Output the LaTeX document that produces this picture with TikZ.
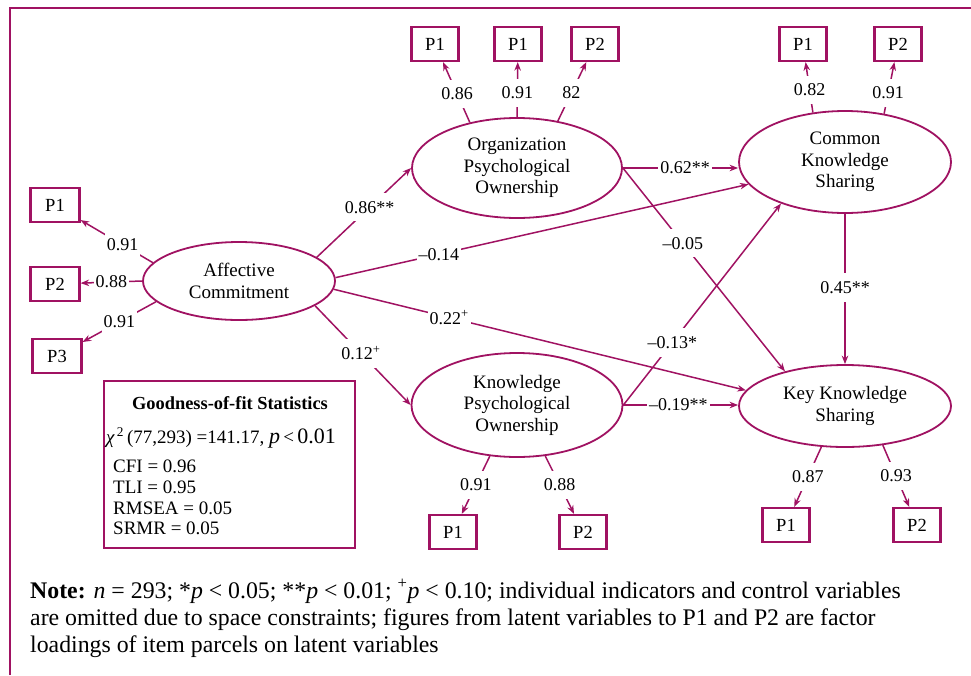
\documentclass[tikz,border=0pt]{standalone}
\usepackage{fontspec}
\setmainfont{Liberation Serif}
\usetikzlibrary{arrows.meta,shapes.geometric}
\definecolor{mag}{RGB}{160,18,98}
\begin{document}
\begin{tikzpicture}[x=1pt,y=-1pt,
  lat/.style={ellipse, draw=mag, line width=1.8pt, inner sep=0pt, align=center,
    font=\fontsize{19}{21.5}\selectfont},
  obs/.style={rectangle, draw=mag, line width=2.2pt, minimum width=47pt,
    minimum height=34pt, inner sep=0pt, font=\fontsize{18.5}{20}\selectfont},
  conn/.style={draw=mag, line width=1.5pt, -{Stealth[length=8.5pt,width=6.5pt]}},
  lbl/.style={fill=white, inner xsep=2pt, inner ysep=8pt, text=black,
    font=\fontsize{18}{20}\selectfont},
  stxt/.style={anchor=west, inner sep=0pt, font=\fontsize{19}{20}\selectfont},
  ntxt/.style={anchor=base west, inner sep=0pt, font=\fontsize{23.8}{27}\selectfont},
]
\useasboundingbox (0,0) rectangle (971,675);
\fill[white] (0,0) rectangle (971,675);
% frame
\coordinate (fa) at (10,675);
\coordinate (fb) at (10,8);
\coordinate (fc) at (971,8);
\draw[mag, line width=2.5pt] (fa) -- (fb) -- (fc);

% latent variables
\node[lat, minimum width=192pt, minimum height=78pt] (ac) at (239,281) {Affective\\Commitment};
\node[lat, minimum width=210pt, minimum height=100pt] (opo) at (517,168) {Organization\\Psychological\\Ownership};
\node[lat, minimum width=211pt, minimum height=104pt] (kpo) at (517,405) {Knowledge\\Psychological\\Ownership};
\node[lat, minimum width=212pt, minimum height=102pt] (cks) at (845,162) {Common\\Knowledge\\Sharing};
\node[lat, minimum width=212pt, minimum height=82pt] (kks) at (845,406) {Key Knowledge\\Sharing};

% indicators
\node[obs] (o1) at (435,44) {P1};
\node[obs] (o2) at (518,44) {P1};
\node[obs] (o3) at (595,44) {P2};
\node[obs] (c1) at (803,44) {P1};
\node[obs] (c2) at (898,44) {P2};
\node[obs, minimum width=49pt] (a1) at (55,205) {P1};
\node[obs, minimum width=49pt] (a2) at (55,284) {P2};
\node[obs, minimum width=49pt] (a3) at (57,356) {P3};
\node[obs] (k1) at (453,532) {P1};
\node[obs] (k2) at (583,532) {P2};
\node[obs] (s1) at (786,525) {P1};
\node[obs] (s2) at (917,525) {P2};

% structural paths
\draw[conn] (ac.17) -- node[lbl,pos=.56]{0.86**} (opo.west);
\draw[conn] (ac.-18) -- node[lbl,pos=.48]{0.12\textsuperscript{+}} (kpo.west);
\draw[conn] (ac.2) -- node[lbl,pos=.25]{–0.14} (cks.193);
\draw[conn] (ac.-5) -- node[lbl,pos=.28]{0.22\textsuperscript{+}} (kks.171);
\draw[conn] (opo.east) -- node[lbl,pos=.54]{0.62**} (cks.west |- opo.east);
\draw[conn] (opo.east) -- node[lbl,pos=.37]{–0.05} (kks.150);
\draw[conn] (kpo.east) -- node[lbl,pos=.31]{–0.13*} (cks.213);
\draw[conn] (kpo.east) -- node[lbl,pos=.48]{–0.19**} (kks.west |- kpo.east);
\draw[conn] (cks.south) -- node[lbl,pos=.49]{0.45**} (kks.north);

% loadings
\draw[conn] (opo.136) -- node[lbl,pos=.47]{0.86} (o1);
\draw[conn] (opo.90) -- node[lbl,pos=.44]{0.91} (o2);
\draw[conn] (opo.49) -- node[lbl,pos=.48]{82} (o3);
\draw[conn] (cks.123) -- node[lbl,pos=.45]{0.82} (c1);
\draw[conn] (cks.51) -- node[lbl,pos=.4]{0.91} (c2);
\draw[conn] (ac.168) -- node[lbl,pos=.42]{0.91} (a1);
\draw[conn] (ac.west) -- node[lbl,pos=.5]{0.88} (a2);
\draw[conn] (ac.194) -- node[lbl,pos=.5]{0.91} (a3);
\draw[conn] (kpo.242) -- node[lbl,pos=.5]{0.91} (k1);
\draw[conn] (kpo.299) -- node[lbl,pos=.5]{0.88} (k2);
\draw[conn] (kks.240) -- node[lbl,pos=.5]{0.87} (s1);
\draw[conn] (kks.314) -- node[lbl,pos=.5]{0.93} (s2);

% goodness-of-fit box
\node[draw=mag, line width=2pt, minimum width=251pt, minimum height=167pt, inner sep=0pt] (stats) at (229.5,464.5) {};
\node[inner sep=0pt, font=\bfseries\fontsize{18.4}{20}\selectfont] (st0) at (230,403) {Goodness-of-fit Statistics};
\node[stxt] (st1) at (106,438) {{\itshape χ}\textsuperscript{\,2}\,(77,293) =141.17, {\fontsize{22}{24}\selectfont\itshape p}\,<\,{\fontsize{22}{24}\selectfont 0.01}};
\node[stxt] (st2) at (113,466) {CFI = 0.96};
\node[stxt] (st3) at (113,487) {TLI = 0.95};
\node[stxt] (st4) at (113,508) {RMSEA = 0.05};
\node[stxt] (st5) at (113,528) {SRMR = 0.05};

% note
\node[ntxt] (n1) at (30,598) {\textbf{Note:} \textit{n} = 293; *\textit{p} < 0.05; **\textit{p} < 0.01; \textsuperscript{+}\textit{p} < 0.10; individual indicators and control variables};
\node[ntxt] (n2) at (30,625) {are omitted due to space constraints; figures from latent variables to P1 and P2 are factor};
\node[ntxt] (n3) at (30,652) {loadings of item parcels on latent variables};
\end{tikzpicture}
\end{document}
